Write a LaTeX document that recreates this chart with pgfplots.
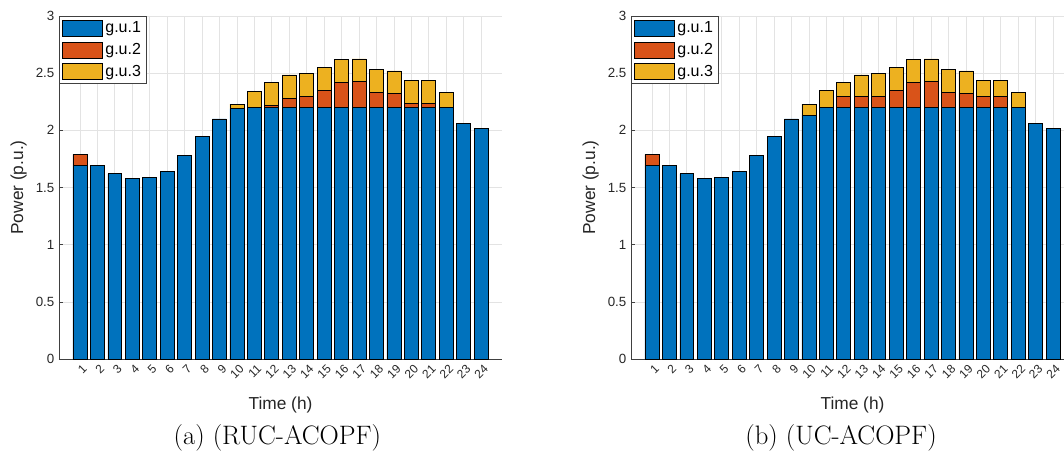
\documentclass[border=0pt]{standalone}
\usepackage{pgfplots}
\pgfplotsset{compat=1.18}
\usepackage{pgfplotstable}
\usepackage{fontspec}
\newfontfamily\arial{Liberation Sans}
\definecolor{mb}{HTML}{0072BD}
\definecolor{mo}{HTML}{D95319}
\definecolor{my}{HTML}{EDB120}
\definecolor{gridc}{HTML}{E3E3E3}
\definecolor{axc}{HTML}{404040}

\pgfplotstableread{
t g1 g2 g3
1 1.69 0.10 0
2 1.69 0 0
3 1.62 0 0
4 1.58 0 0
5 1.59 0 0
6 1.64 0 0
7 1.78 0 0
8 1.95 0 0
9 2.10 0 0
10 2.19 0 0.04
11 2.20 0 0.14
12 2.20 0.02 0.20
13 2.20 0.08 0.205
14 2.20 0.095 0.20
15 2.20 0.15 0.20
16 2.20 0.22 0.20
17 2.20 0.225 0.20
18 2.20 0.13 0.20
19 2.20 0.125 0.195
20 2.20 0.035 0.20
21 2.20 0.035 0.20
22 2.20 0 0.13
23 2.06 0 0
24 2.02 0 0
}\ruc

\pgfplotstableread{
t g1 g2 g3
1 1.69 0.10 0
2 1.69 0 0
3 1.62 0 0
4 1.58 0 0
5 1.59 0 0
6 1.64 0 0
7 1.78 0 0
8 1.95 0 0
9 2.10 0 0
10 2.13 0 0.10
11 2.20 0 0.15
12 2.20 0.10 0.12
13 2.20 0.10 0.185
14 2.20 0.10 0.197
15 2.20 0.15 0.20
16 2.20 0.22 0.20
17 2.20 0.225 0.20
18 2.20 0.13 0.20
19 2.20 0.125 0.195
20 2.20 0.10 0.133
21 2.20 0.10 0.133
22 2.20 0 0.13
23 2.06 0 0
24 2.02 0 0
}\uc

\pgfplotsset{
  leg/.style={legend image code/.code={\draw[##1,draw=black,line width=0.5pt] (0pt,-6pt) rectangle (30pt,6pt);}},
  myaxis/.style={
    scale only axis, width=332.25pt, height=257.25pt,
    anchor=south west,
    ybar stacked, bar width=0.8,
    xmin=-0.2, xmax=25.2, ymin=0, ymax=3,
    xtick={1,...,24}, ytick={0,0.5,1,1.5,2,2.5,3},
    axis x line=bottom, axis y line=left,
    axis line style={-, draw=axc, line width=0.6pt},
    tick style={draw=axc, line width=0.5pt},
    tick align=inside, major tick length=3pt,
    grid=major, grid style={draw=gridc, line width=0.5pt},
    /pgf/number format/assume math mode=true,
    /pgf/number format/fixed,
    yticklabel style={font=\arial\fontsize{10}{12}\selectfont, text=black!85},
    xticklabel style={font=\arial\fontsize{9}{11}\selectfont, text=black!85,
      xshift=4.5pt, yshift=-5pt, rotate=45, anchor=east, inner sep=1pt},
    xlabel={Time (h)}, ylabel={Power (p.u.)},
    xlabel style={yshift=-8pt},
    label style={font=\arial\fontsize{13}{15}\selectfont, text=black!85},
    legend cell align=left,
    legend style={at={(rel axis cs:0,1)}, anchor=north west, draw=axc, line width=0.6pt,
      font=\arial\fontsize{12}{14}\selectfont, inner sep=2pt, row sep=2.5pt,
      /tikz/every even column/.append style={column sep=2pt}},
    every axis plot/.append style={draw=black, line width=0.5pt},
  }
}

\begin{document}
\begin{tikzpicture}
\useasboundingbox (0,0) rectangle (798pt,340.5pt);
\begin{axis}[myaxis, at={(44.25pt,71.25pt)}]
\addplot[fill=mb, leg] table[x=t,y=g1]{\ruc};
\addplot[fill=mo, leg] table[x=t,y=g2]{\ruc};
\addplot[fill=my, leg] table[x=t,y=g3]{\ruc};
\legend{g.u.1,g.u.2,g.u.3}
\end{axis}
\begin{axis}[myaxis, at={(473.25pt,71.25pt)}]
\addplot[fill=mb, leg] table[x=t,y=g1]{\uc};
\addplot[fill=mo, leg] table[x=t,y=g2]{\uc};
\addplot[fill=my, leg] table[x=t,y=g3]{\uc};
\legend{g.u.1,g.u.2,g.u.3}
\end{axis}
\node[font=\fontsize{20}{23}\selectfont] at (208pt,12pt) {(a) (RUC-ACOPF)};
\node[font=\fontsize{20}{23}\selectfont] at (630.75pt,12pt) {(b) (UC-ACOPF)};
\end{tikzpicture}
\end{document}
